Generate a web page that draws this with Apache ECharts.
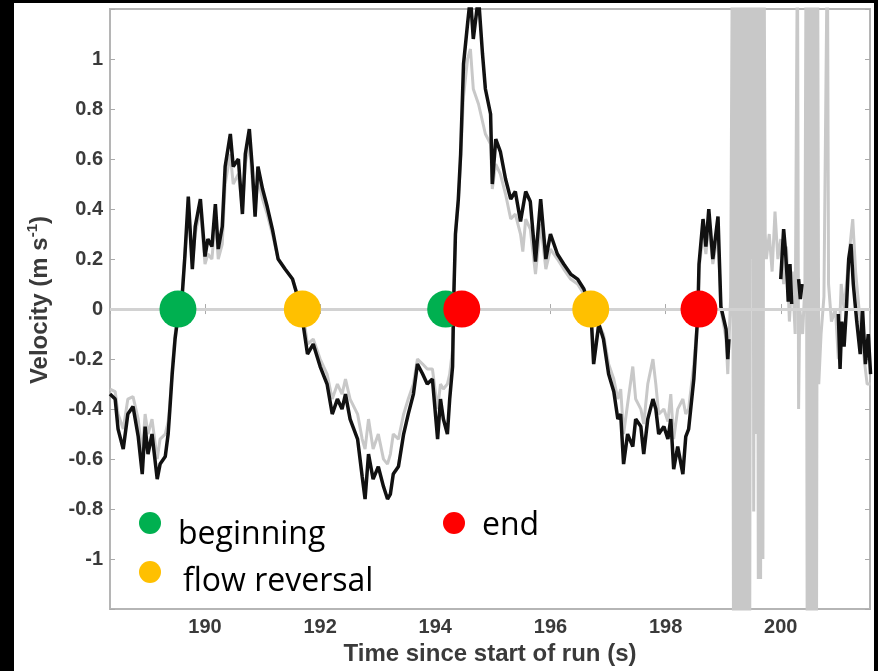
<!DOCTYPE html>
<html>
<head>
<meta charset="utf-8">
<script src="https://cdn.jsdelivr.net/npm/echarts/dist/echarts.min.js"></script>
<style>
  html, body { margin: 0; padding: 0; background: #000; }
  #page { position: relative; width: 878px; height: 671px; background: #000; overflow: hidden; }
  #chart { position: absolute; left: 14px; top: 3px; width: 860px; height: 668px; background: #fff; }
</style>
</head>
<body>
<div id="page"><div id="chart"></div></div>
<script>
// velocity from the main sensor, [time (s), velocity (m/s)]; '-' breaks the line
var blackTrace = [
  [188.35,-0.34],[188.44,-0.36],[188.49,-0.48],[188.58,-0.56],[188.66,-0.42],[188.75,-0.39],
  [188.84,-0.51],[188.91,-0.66],[188.96,-0.47],[189.01,-0.58],[189.08,-0.50],[189.17,-0.68],
  [189.22,-0.62],[189.31,-0.59],[189.36,-0.50],[189.39,-0.40],[189.43,-0.26],[189.48,-0.12],
  [189.53,-0.03],[189.60,0.04],[189.65,0.21],[189.71,0.45],[189.78,0.16],[189.83,0.33],
  [189.92,0.44],[190.00,0.21],[190.05,0.28],[190.12,0.25],[190.18,0.42],[190.23,0.24],
  [190.30,0.33],[190.35,0.57],[190.44,0.70],[190.49,0.57],[190.58,0.60],[190.65,0.38],
  [190.70,0.62],[190.77,0.72],[190.82,0.57],[190.87,0.37],[190.92,0.57],[191.00,0.48],
  [191.08,0.41],[191.17,0.32],[191.27,0.20],[191.39,0.16],[191.52,0.12],[191.62,0.04],
  [191.71,-0.07],[191.78,-0.18],[191.88,-0.14],[192.00,-0.23],[192.12,-0.30],[192.21,-0.42],
  [192.30,-0.36],[192.38,-0.40],[192.44,-0.34],[192.52,-0.44],[192.65,-0.52],[192.73,-0.67],
  [192.78,-0.76],[192.84,-0.58],[192.92,-0.68],[193.01,-0.63],[193.10,-0.71],[193.17,-0.76],
  [193.22,-0.74],[193.27,-0.66],[193.36,-0.63],[193.45,-0.50],[193.53,-0.42],[193.62,-0.34],
  [193.69,-0.22],[193.78,-0.26],[193.86,-0.30],[193.95,-0.28],[194.04,-0.52],[194.09,-0.36],
  [194.14,-0.44],[194.21,-0.50],[194.25,-0.36],[194.30,-0.23],[194.32,0.04],[194.35,0.30],
  [194.40,0.44],[194.44,0.62],[194.49,0.98],[194.56,1.14],[194.61,1.25],[194.66,1.08],
  [194.75,1.25],[194.82,1.02],[194.87,0.88],[194.96,0.78],[194.99,0.50],[195.05,0.68],
  [195.13,0.63],[195.22,0.52],[195.31,0.44],[195.39,0.47],[195.48,0.35],[195.57,0.47],
  [195.65,0.43],[195.74,0.19],[195.83,0.44],[195.92,0.20],[196.00,0.30],[196.12,0.22],
  [196.23,0.18],[196.35,0.14],[196.47,0.12],[196.58,0.08],[196.70,0.00],[196.75,-0.22],
  [196.84,-0.06],[196.92,-0.12],[197.01,-0.26],[197.10,-0.33],[197.17,-0.44],[197.22,-0.42],
  [197.27,-0.62],[197.34,-0.50],[197.43,-0.55],[197.48,-0.44],[197.57,-0.47],[197.62,-0.58],
  [197.69,-0.44],[197.78,-0.36],[197.83,-0.40],[197.88,-0.50],[197.97,-0.47],[198.04,-0.52],
  [198.09,-0.44],[198.14,-0.64],[198.21,-0.55],[198.30,-0.66],[198.35,-0.51],[198.40,-0.48],
  [198.49,-0.28],[198.56,-0.02],[198.58,0.18],[198.65,0.36],[198.70,0.25],[198.75,0.40],
  [198.82,0.20],[198.91,0.37],[198.96,0.01],[199.05,-0.08],[199.08,-0.20],[199.10,-0.12],
  [199.11,'-'],
  [200.00,0.12],[200.05,0.32],[200.08,0.24],[200.11,0.13],[200.13,0.03],[200.16,0.18],[200.19,0.02],
  [200.20,'-'],
  [200.31,0.12],[200.34,0.04],[200.37,0.10],
  [200.38,'-'],
  [201.00,-0.02],[201.03,-0.24],[201.06,-0.05],[201.10,-0.15],[201.14,0.00],[201.18,0.20],
  [201.22,0.26],[201.26,0.10],[201.32,-0.05],[201.38,-0.18],[201.42,0.00],[201.47,-0.22],
  [201.52,-0.10],[201.56,-0.26]
];

// velocity from the second sensor, drawn in grey underneath
var grayTrace = [
  [188.35,-0.32],[188.44,-0.33],[188.49,-0.42],[188.58,-0.48],[188.66,-0.36],[188.75,-0.35],
  [188.84,-0.44],[188.91,-0.58],[188.96,-0.42],[189.01,-0.50],[189.08,-0.44],[189.17,-0.60],
  [189.22,-0.52],[189.31,-0.50],[189.36,-0.45],[189.39,-0.38],[189.43,-0.24],[189.48,-0.10],
  [189.53,-0.02],[189.60,0.06],[189.65,0.22],[189.71,0.40],[189.78,0.18],[189.83,0.30],
  [189.92,0.40],[190.00,0.18],[190.05,0.22],[190.12,0.20],[190.18,0.36],[190.23,0.20],
  [190.30,0.26],[190.35,0.50],[190.44,0.62],[190.49,0.50],[190.58,0.54],[190.65,0.40],
  [190.70,0.58],[190.77,0.66],[190.82,0.52],[190.87,0.40],[190.92,0.52],[191.00,0.44],
  [191.08,0.38],[191.17,0.30],[191.27,0.20],[191.39,0.16],[191.52,0.12],[191.62,0.05],
  [191.71,-0.03],[191.78,-0.14],[191.88,-0.12],[192.00,-0.20],[192.12,-0.26],[192.21,-0.36],
  [192.30,-0.30],[192.38,-0.34],[192.44,-0.28],[192.52,-0.36],[192.65,-0.42],[192.73,-0.52],
  [192.78,-0.56],[192.84,-0.44],[192.92,-0.56],[193.01,-0.50],[193.10,-0.60],[193.17,-0.62],
  [193.22,-0.58],[193.27,-0.50],[193.36,-0.52],[193.45,-0.42],[193.53,-0.36],[193.62,-0.30],
  [193.69,-0.20],[193.78,-0.22],[193.86,-0.24],[193.95,-0.24],[194.04,-0.40],[194.09,-0.30],
  [194.14,-0.32],[194.21,-0.30],[194.25,-0.26],[194.30,-0.16],[194.32,0.04],[194.35,0.30],
  [194.40,0.42],[194.44,0.60],[194.49,0.85],[194.56,1.00],[194.61,1.04],[194.66,0.88],
  [194.75,0.82],[194.82,0.75],[194.87,0.70],[194.96,0.66],[194.99,0.48],[195.05,0.58],
  [195.13,0.54],[195.22,0.46],[195.31,0.36],[195.39,0.38],[195.48,0.30],[195.52,0.23],
  [195.57,0.36],[195.65,0.32],[195.74,0.14],[195.83,0.34],[195.92,0.16],[196.00,0.24],
  [196.12,0.20],[196.23,0.16],[196.35,0.12],[196.47,0.10],[196.58,0.06],[196.70,-0.01],
  [196.75,-0.18],[196.84,-0.06],[196.92,-0.10],[197.01,-0.22],[197.10,-0.28],[197.17,-0.36],
  [197.22,-0.32],[197.27,-0.50],[197.34,-0.38],[197.43,-0.23],[197.48,-0.36],[197.57,-0.40],
  [197.62,-0.46],[197.69,-0.30],[197.78,-0.20],[197.83,-0.30],[197.88,-0.42],[197.97,-0.40],
  [198.04,-0.45],[198.09,-0.34],[198.14,-0.52],[198.21,-0.40],[198.30,-0.36],[198.35,-0.42],
  [198.40,-0.40],[198.49,-0.22],[198.56,-0.02],[198.58,0.16],[198.65,0.30],[198.70,0.22],
  [198.75,0.34],[198.82,0.18],[198.91,0.30],[198.96,0.00],[199.05,-0.12],[199.08,-0.26],
  [199.13,0.05],[199.16,1.5],[199.18,-1.5],[199.20,1.5],[199.22,-1.5],[199.24,1.5],
  [199.26,-1.5],[199.28,1.5],[199.30,-1.5],[199.32,1.5],[199.34,-1.5],[199.36,1.5],
  [199.38,-1.5],[199.40,1.5],[199.42,-1.5],[199.44,1.5],[199.46,-1.5],[199.48,1.5],
  [199.50,0.20],[199.52,1.5],[199.53,-0.81],[199.55,1.5],[199.57,-0.50],[199.59,1.5],
  [199.61,-1.08],[199.63,1.5],[199.65,-1.08],[199.67,1.5],[199.69,-1.00],[199.71,1.5],
  [199.73,0.30],[199.75,0.20],[199.80,0.30],[199.85,0.15],[199.90,0.39],[199.95,0.20],
  [200.00,0.28],[200.05,0.10],[200.10,0.25],[200.15,-0.05],[200.20,0.15],[200.25,-0.10],
  [200.29,1.5],[200.31,-0.40],[200.33,0.00],[200.38,-0.10],[200.42,0.10],[200.44,1.5],
  [200.46,-1.5],[200.48,1.5],[200.50,-1.5],[200.52,1.5],[200.54,-1.5],[200.56,1.5],
  [200.58,-1.5],[200.60,1.5],[200.62,-1.5],[200.64,1.5],[200.66,-0.30],[200.70,-0.10],
  [200.75,0.05],[200.81,1.5],[200.83,0.10],[200.88,-0.05],[200.95,0.00],[201.00,-0.20],
  [201.05,0.10],[201.10,0.00],[201.20,0.25],[201.25,0.36],[201.30,0.15],[201.40,-0.10],
  [201.50,-0.30],[201.56,-0.30]
];

// event markers on the zero line
var beginPts = [[189.53,0],[194.18,0]];
var reversalPts = [[191.69,0],[196.70,0]];
var endPts = [[194.46,0],[198.58,0]];

var tMin = 188.35, tMax = 201.55;
var vMin = -1.2, vMax = 1.2, vStep = 0.2;

var chart = echarts.init(document.getElementById('chart'));

var option = {
  animation: false,
  backgroundColor: '#fff',
  grid: {
    left: 96, right: 4, top: 6, bottom: 61,
    show: true, borderColor: '#b5b5b5', borderWidth: 2, backgroundColor: '#fff'
  },
  xAxis: [
    {
      type: 'value', min: tMin, max: tMax, splitNumber: 7,
      name: 'Time since start of run (s)', nameLocation: 'middle', nameGap: 30,
      nameTextStyle: { color: '#3a3a3a', fontSize: 24, fontWeight: 'bold', fontFamily: 'Liberation Sans' },
      axisLine: { show: false },
      axisTick: { inside: true, length: 5, lineStyle: { color: '#aaa' } },
      axisLabel: {
        color: '#3a3a3a', fontSize: 20, fontWeight: 'bold', fontFamily: 'Liberation Sans', margin: 8,
        showMinLabel: false, showMaxLabel: false,
        formatter: function (v) { return (Math.abs(v - Math.round(v)) < 1e-6) ? String(Math.round(v)) : ''; }
      },
      splitLine: { show: false }
    },
    {
      type: 'value', min: tMin, max: tMax, splitNumber: 7, position: 'top',
      axisLine: { show: false },
      axisTick: { inside: true, length: 5, lineStyle: { color: '#aaa' } },
      axisLabel: { show: false },
      splitLine: { show: false }
    }
  ],
  yAxis: [
    {
      type: 'value', min: vMin, max: vMax, interval: vStep,
      name: '{n|Velocity (m s}{s|-1}{n|)}', nameLocation: 'middle', nameGap: 58, nameRotate: 90,
      nameTextStyle: {
        padding: [0, 0, 0, 18],
        rich: {
          n: { color: '#3a3a3a', fontSize: 24, fontWeight: 'bold', fontFamily: 'Liberation Sans', lineHeight: 27, verticalAlign: 'bottom' },
          s: { color: '#3a3a3a', fontSize: 15, fontWeight: 'bold', fontFamily: 'Liberation Sans', lineHeight: 27, verticalAlign: 'top', padding: [0, 0, 10, 0] }
        }
      },
      axisLine: { show: false },
      axisTick: { inside: true, length: 5, lineStyle: { color: '#aaa' } },
      axisLabel: {
        color: '#3a3a3a', fontSize: 20, fontWeight: 'bold', fontFamily: 'Liberation Sans', margin: 7,
        formatter: function (v) {
          if (Math.abs(v) > 1.1) return '';
          var r = Math.round(v * 10) / 10;
          return r === 0 ? '0' : String(r);
        }
      },
      splitLine: { show: false }
    },
    {
      type: 'value', min: vMin, max: vMax, interval: vStep, position: 'right',
      axisLine: { show: false },
      axisTick: { inside: true, length: 5, lineStyle: { color: '#aaa' } },
      axisLabel: { show: false },
      splitLine: { show: false }
    }
  ],
  series: [
    {
      name: 'sensor 2', type: 'line', data: grayTrace, showSymbol: false, clip: true,
      lineStyle: { color: '#c8c8c8', width: 3 }, z: 2,
      markLine: {
        silent: true, symbol: ['none', 'none'], label: { show: false },
        lineStyle: { color: '#d2d2d2', width: 3, type: 'solid' },
        data: [{ yAxis: 0 }]
      }
    },
    {
      name: 'sensor 1', type: 'line', data: blackTrace, showSymbol: false, clip: true,
      connectNulls: false,
      lineStyle: { color: '#111', width: 3.5 }, z: 3
    },
    {
      name: 'beginning', type: 'scatter', data: beginPts, symbolSize: 37,
      itemStyle: { color: '#00b050', opacity: 1 }, z: 5
    },
    {
      name: 'flow reversal', type: 'scatter', data: reversalPts, symbolSize: 37,
      itemStyle: { color: '#ffc000', opacity: 1 }, z: 5
    },
    {
      name: 'end', type: 'scatter', data: endPts, symbolSize: 37,
      itemStyle: { color: '#ff0000', opacity: 1 }, z: 6
    }
  ],
  graphic: [
    { type: 'circle', shape: { cx: 136, cy: 520, r: 11 }, style: { fill: '#00b050' }, z: 10 },
    { type: 'circle', shape: { cx: 136, cy: 569, r: 11 }, style: { fill: '#ffc000' }, z: 10 },
    { type: 'circle', shape: { cx: 440, cy: 520, r: 11 }, style: { fill: '#ff0000' }, z: 10 },
    { type: 'text', x: 164, y: 548, z: 10,
      style: { text: 'beginning', font: '32px "Open Sans", sans-serif', fill: '#000', textVerticalAlign: 'bottom' } },
    { type: 'text', x: 169, y: 595, z: 10,
      style: { text: 'flow reversal', font: '32px "Open Sans", sans-serif', fill: '#000', textVerticalAlign: 'bottom' } },
    { type: 'text', x: 468, y: 539, z: 10,
      style: { text: 'end', font: '32px "Open Sans", sans-serif', fill: '#000', textVerticalAlign: 'bottom' } }
  ]
};

chart.setOption(option);
</script>
</body>
</html>
